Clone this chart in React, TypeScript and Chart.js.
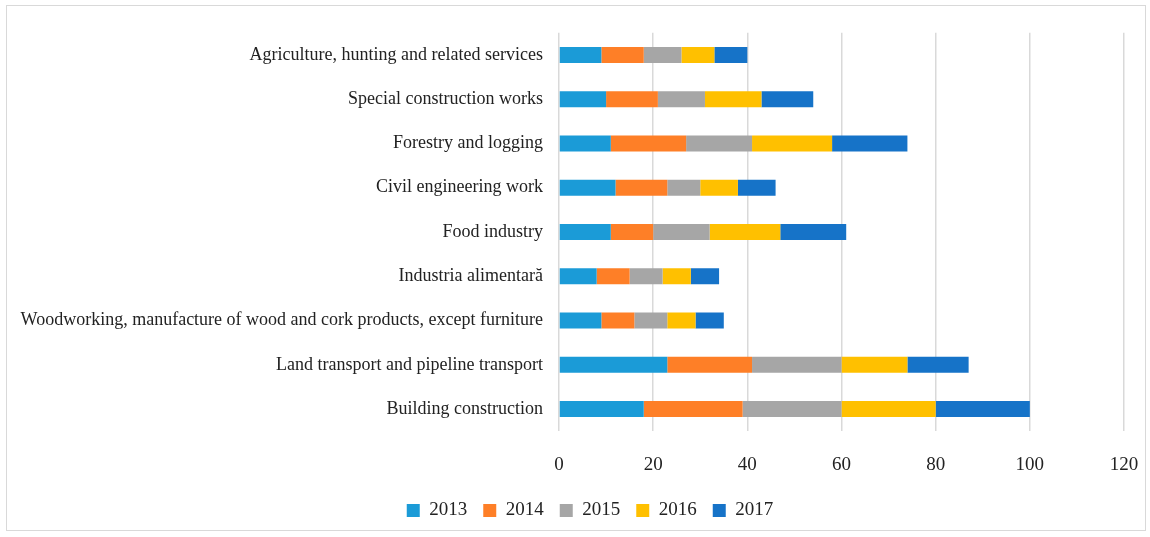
import React, { useEffect, useRef } from "react";
import { Chart, registerables } from "chart.js";

Chart.register(...registerables);

const categories = [
  "Agriculture, hunting and related services",
  "Special construction works",
  "Forestry and logging",
  "Civil engineering work",
  "Food industry",
  "Industria alimentară",
  "Woodworking, manufacture of wood and cork products, except furniture",
  "Land transport and pipeline transport",
  "Building construction",
];

const years = ["2013", "2014", "2015", "2016", "2017"];
const values2013 = [9, 10, 11, 12, 11, 8, 9, 23, 18];
const values2014 = [9, 11, 16, 11, 9, 7, 7, 18, 21];
const values2015 = [8, 10, 14, 7, 12, 7, 7, 19, 21];
const values2016 = [7, 12, 17, 8, 15, 6, 6, 14, 20];
const values2017 = [7, 11, 16, 8, 14, 6, 6, 13, 20];
const xTicks = [0, 20, 40, 60, 80, 100, 120];

const colors = ["#1B9BD7", "#FE7F27", "#A6A6A6", "#FFC000", "#1673C8"];
const FONT = "'Liberation Serif', 'Times New Roman', serif";

const legendShift = {
  id: "legendShift",
  afterLayout(chart: any) {
    if (chart.legend) {
      chart.legend.left += 14;
      chart.legend.right += 14;
    }
  },
};

export default function App() {
  const ref = useRef<HTMLCanvasElement | null>(null);

  useEffect(() => {
    if (!ref.current) return;
    const series = [values2013, values2014, values2015, values2016, values2017];
    const chart = new Chart(ref.current, {
      type: "bar",
      data: {
        labels: categories,
        datasets: years.map((y, i) => ({
          label: y,
          data: series[i],
          backgroundColor: colors[i],
          borderWidth: 0,
          barPercentage: 0.6,
          categoryPercentage: 0.6,
        })),
      },
      plugins: [legendShift],
      options: {
        indexAxis: "y",
        animation: false,
        responsive: false,
        maintainAspectRatio: false,
        layout: { padding: { left: 0, right: 0, top: 25, bottom: 0 } },
        plugins: {
          tooltip: { enabled: false },
          legend: {
            position: "bottom",
            labels: {
              boxWidth: 13,
              boxHeight: 13,
              padding: 16,
              color: "#222",
              font: { family: FONT, size: 19 },
            },
          },
        },
        scales: {
          x: {
            stacked: true,
            min: 0,
            max: 120,
            afterBuildTicks: (scale: any) => {
              scale.ticks = xTicks.map((v) => ({ value: v }));
            },
            afterFit: (scale: any) => {
              scale.height = scale.height - 13;
              scale.paddingRight = 21;
            },
            grid: { color: "#d9d9d9", lineWidth: 1.5, drawTicks: false },
            border: { display: false },
            ticks: {
              color: "#222",
              padding: 22,
              font: { family: FONT, size: 19 },
            },
          },
          y: {
            stacked: true,
            afterFit: (scale: any) => {
              scale.width = 552;
            },
            grid: { display: false, drawTicks: false },
            border: { display: false },
            ticks: {
              color: "#222",
              padding: 16,
              font: { family: FONT, size: 18 },
            },
          },
        },
      },
    });
    return () => chart.destroy();
  }, []);

  return (
    <div
      style={{
        position: "fixed",
        left: 6,
        top: 5,
        width: 1140,
        height: 526,
        boxSizing: "border-box",
        border: "1px solid #d9d9d9",
        background: "#fff",
      }}
    >
      <canvas ref={ref} width={1138} height={524} style={{ display: "block" }} />
    </div>
  );
}
